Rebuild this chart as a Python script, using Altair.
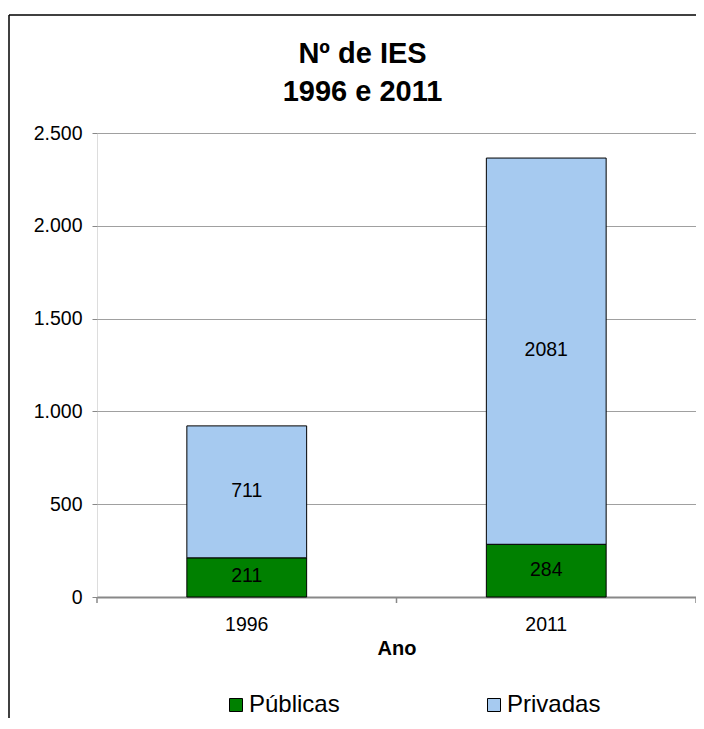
import altair as alt
import pandas as pd

anos = ["1996", "2011"]
publicas = [211, 284]
privadas = [711, 2081]
series = ["Públicas", "Privadas"]
colors = ["#008000", "#A6CAF0"]
y_ticks = [0, 500, 1000, 1500, 2000, 2500]
title_lines = ["Nº de IES", "1996 e 2011"]

rows = []
for i, a in enumerate(anos):
    rows.append({"ano": a, "tipo": series[0], "ordem": 0, "valor": publicas[i]})
    rows.append({"ano": a, "tipo": series[1], "ordem": 1, "valor": privadas[i]})
df = pd.DataFrame(rows)

FONT = "Liberation Sans"
W, H = 599, 464

x_enc = dict(
    title="Ano",
    scale=alt.Scale(paddingInner=0.6, paddingOuter=0.3),
    axis=alt.Axis(labelAngle=0, ticks=False, labelFontSize=19.5, labelPadding=18,
                  titleFontSize=20, titleFontWeight="bold", titlePadding=5,
                  domainColor="#888888", domainWidth=2, labelColor="black",
                  titleColor="black", labelFont=FONT, titleFont=FONT, grid=False),
)
y_scale = alt.Scale(domain=[0, 2500], nice=False, zero=True)
y_axis = alt.Axis(values=y_ticks, labelExpr="replace(format(datum.value, ','), ',', '.')",
                  labelFontSize=19.5, labelFont=FONT, labelColor="black", tickSize=5,
                  tickColor="#888888", labelPadding=10, grid=True, gridColor="#A0A0A0",
                  gridWidth=1, domain=False, title=None)

base = alt.Chart(df).transform_stack(
    stack="valor", groupby=["ano"], as_=["v0", "v1"], sort=[alt.SortField("ordem")]
).transform_calculate(mid="(datum.v0 + datum.v1) / 2")

bars = base.mark_bar(stroke="black", strokeWidth=1).encode(
    x=alt.X("ano:N", **x_enc),
    y=alt.Y("v0:Q", scale=y_scale, axis=y_axis),
    y2="v1:Q",
    color=alt.Color("tipo:N", scale=alt.Scale(domain=series, range=colors), sort=series,
                    legend=alt.Legend(orient="none", legendX=127, legendY=560,
                                      direction="horizontal", title=None,
                                      symbolType="square", symbolSize=169,
                                      symbolStrokeColor="black", symbolStrokeWidth=1,
                                      labelFontSize=24, labelFont=FONT, labelColor="black",
                                      labelOffset=1, columnPadding=142)),
)

labels = base.mark_text(fontSize=19.5, font=FONT, color="black", dy=-1).encode(
    x=alt.X("ano:N", **x_enc),
    y=alt.Y("mid:Q", scale=y_scale, axis=y_axis),
    text="valor:Q",
)

one = alt.Data(values=[{"a": 1}])
frame_v = alt.Chart(one).mark_rule(color="black", strokeWidth=1.5).encode(
    x=alt.value(-88), y=alt.value(-118), y2=alt.value(H + 200))
frame_h = alt.Chart(one).mark_rule(color="black", strokeWidth=1.5).encode(
    x=alt.value(-88), x2=alt.value(W + 200), y=alt.value(-118))
tick_l = alt.Chart(one).mark_rule(color="#888888", strokeWidth=1.5).encode(
    x=alt.value(0), y=alt.value(H), y2=alt.value(H + 6))
tick_m = alt.Chart(one).mark_rule(color="#888888", strokeWidth=1.5).encode(
    x=alt.value(W / 2), y=alt.value(H), y2=alt.value(H + 6))
tick_r = alt.Chart(one).mark_rule(color="#888888", strokeWidth=1.5).encode(
    x=alt.value(W), y=alt.value(H), y2=alt.value(H + 6))

chart = alt.layer(bars, labels, tick_l, tick_m, tick_r, frame_v, frame_h).properties(
    width=W, height=H,
    autosize="none",
    padding={"left": 89, "top": 125, "right": 0, "bottom": 121},
    title=alt.TitleParams(title_lines, fontSize=29, font=FONT, fontWeight="bold",
                          lineHeight=38, anchor="middle", dx=-34, offset=-93, color="black"),
).configure_view(stroke="#999999", strokeWidth=1.5).configure(background="white")

chart.save("out.html", embed_options={"renderer": "svg", "actions": False})
